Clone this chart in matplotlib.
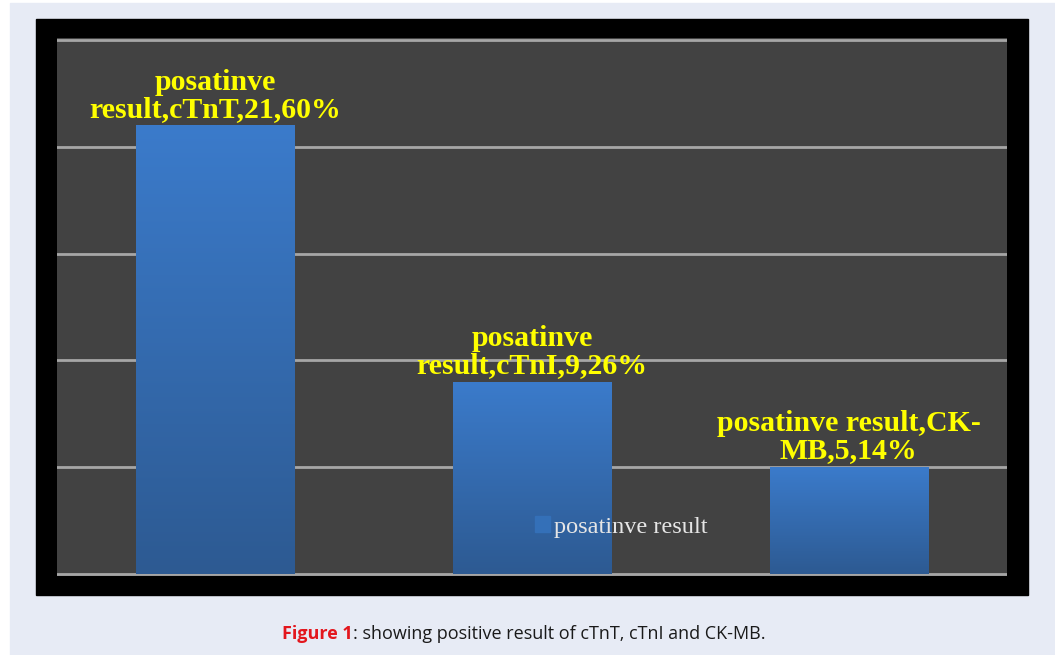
import textwrap

import numpy as np
import matplotlib.pyplot as plt
from matplotlib.colors import LinearSegmentedColormap
from matplotlib.patches import Patch, Rectangle

# counts of positive results per marker
series_name = 'posatinve result'
categories = ['cTnT', 'cTnI', 'CK-MB']
counts = [21, 9, 5]
percents = ['60%', '26%', '14%']
y_ticks = [0, 5, 10, 15, 20, 25]

W, H = 1055, 655
fig = plt.figure(figsize=(W / 100, H / 100), dpi=100)
fig.patch.set_facecolor('white')

# page panel and black chart frame
fig.add_artist(Rectangle((10 / W, 0), 1 - 10 / W, 1 - 3 / H, transform=fig.transFigure,
                         color='#e7ebf5', zorder=-3))
fig.add_artist(Rectangle((36 / W, 1 - 595 / H), (1028 - 36) / W, (595 - 19) / H,
                         transform=fig.transFigure, color='black', zorder=-2))

ax = fig.add_axes([57 / W, 1 - 576 / H, 950 / W, (576 - 38) / H])
ax.set_facecolor('#424242')

x = np.arange(len(categories))
bars = ax.bar(x, counts, width=0.5, color='#3470b8', zorder=2)

# vertical gradient fill inside each bar
grad = np.linspace(0, 1, 256).reshape(-1, 1)
bar_cmap = LinearSegmentedColormap.from_list('bar', ['#2d5a92', '#3b7bcb'])
for b in bars:
    x0, y0, w, h = b.get_x(), b.get_y(), b.get_width(), b.get_height()
    im = ax.imshow(grad, cmap=bar_cmap, extent=[x0, x0 + w, y0, y0 + h],
                   origin='lower', aspect='auto', zorder=2.5)
    im.set_clip_path(b)

# data labels above bars
for xi, cat, n, pct in zip(x, categories, counts, percents):
    label = textwrap.fill(f'{series_name},{cat},{n},{pct}', 20)
    ax.annotate(label, (xi, n), xytext=(0, 2), textcoords='offset points',
                ha='center', va='bottom', fontsize=21.5, family='Liberation Serif',
                fontweight='bold', color='#ffff00', linespacing=1.0, zorder=4)

ax.set_xlim(-0.5, len(categories) - 0.5)
ax.set_ylim(-0.094, 25.094)
ax.set_yticks(y_ticks)
ax.yaxis.grid(True, color='#a6a6a6', linewidth=2)
ax.set_axisbelow(True)
ax.tick_params(length=0, labelleft=False, labelbottom=False)
for s in ax.spines.values():
    s.set_visible(False)

leg = ax.legend(handles=[Patch(color='#3470b8', label=series_name)],
                loc='center left', bbox_to_anchor=((535 - 57) / 950, (576 - 527) / 538),
                frameon=False, borderpad=0, borderaxespad=0, handlelength=0.6,
                handleheight=0.6, handletextpad=0.2,
                prop={'family': 'Liberation Serif', 'size': 17.5})
for t in leg.get_texts():
    t.set_color('#e6e6e6')

# caption: red bold figure number followed by normal text
cap_y = 1 - 639 / H
t1 = fig.text(0, cap_y, 'Figure 1', color='#e3161d', fontweight='bold', fontsize=13,
              family='Open Sans', va='baseline')
t2 = fig.text(0, cap_y, ': showing positive result of cTnT, cTnI and CK-MB.', color='#1a1a1a',
              fontsize=13, family='Open Sans', va='baseline')
fig.canvas.draw()
r = fig.canvas.get_renderer()
w1 = t1.get_window_extent(r).width
w2 = t2.get_window_extent(r).width
start = 524 - (w1 + w2) / 2
t1.set_x(start / W)
t2.set_x((start + w1) / W)

fig.savefig('out.png', dpi=100)
